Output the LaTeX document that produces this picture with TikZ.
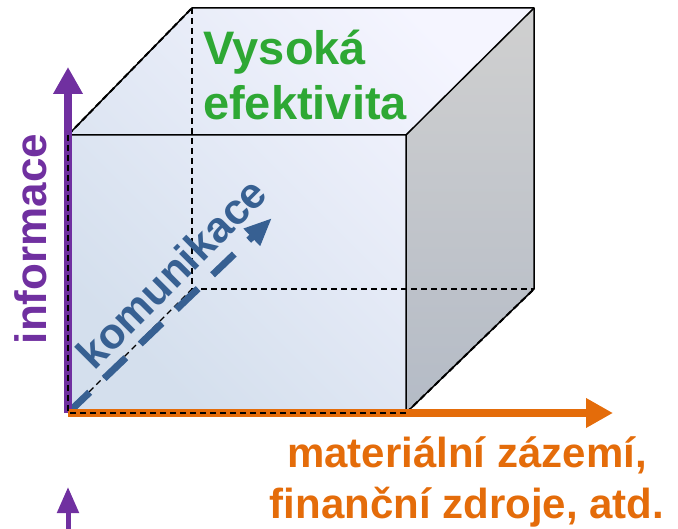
\documentclass[tikz,border=0pt]{standalone}
\usepackage{fontspec}
\setmainfont{Liberation Sans}
\usetikzlibrary{arrows.meta}
\definecolor{infopurple}{RGB}{112,48,160}
\definecolor{matorange}{RGB}{228,108,10}
\definecolor{effgreen}{RGB}{46,168,52}
\definecolor{commblue}{RGB}{55,96,146}
\begin{document}
\begin{tikzpicture}[x=1pt, y=-1pt,
    edge/.style={line width=1.5pt, line join=round},
    hidden/.style={line width=1.2pt, dash pattern=on 6pt off 4pt},
    axis/.style={line width=8pt, -{Triangle[length=27pt,width=28pt]}},
    bigtext/.style={font=\fontsize{42}{51}\selectfont\bfseries, inner sep=0pt}]
  \clip (0,0) rectangle (678,529);
  % cube corners: front (f) and back (b)
  \coordinate (fbl) at (68,413);  \coordinate (fbr) at (406,413);
  \coordinate (ftr) at (406,135); \coordinate (ftl) at (68,135);
  \coordinate (bbl) at (192,289); \coordinate (bbr) at (534,289);
  \coordinate (btr) at (534,8);   \coordinate (btl) at (192,8);
  \coordinate (itip) at (68,67);  \coordinate (mtip) at (613,413);
  \coordinate (ctip) at (272,218);
  \coordinate (stub) at (68,545); \coordinate (stubtip) at (68,487);
  % faces
  \shade[top color=white!96!blue, bottom color={rgb,255:red,212;green,223;blue,237}, shading angle=-45]
    (fbl) -- (fbr) -- (ftr) -- (btr) -- (btl) -- (ftl) -- cycle;
  \shade[top color={rgb,255:red,208;green,208;blue,208}, bottom color={rgb,255:red,180;green,187;blue,198}]
    (fbr) -- (bbr) -- (btr) -- (ftr) -- cycle;
  % hidden edges
  \draw[hidden] (btl) -- (bbl) -- (bbr);
  \draw[hidden] (fbl) -- (bbl);
  % visible edges
  \draw[edge] (ftl) -- (ftr) -- (fbr) -- (bbr) -- (btr) -- (btl) -- (ftl);
  \draw[edge] (ftr) -- (btr);
  \draw[hidden, line width=2pt] (ftl) -- (btl);
  \draw[hidden, line width=2pt] (fbr) -- (bbr);
  % axes
  \draw[commblue, line width=7pt, dash pattern=on 30pt off 20pt, -{Triangle[length=28pt,width=22pt]}] (fbl) -- (ctip);
  \draw[axis, infopurple] (fbl) -- (itip);
  \draw[axis, matorange] (fbl) -- (mtip);
  \draw[hidden] (ftl) -- (fbl) -- (fbr);
  \draw[infopurple, line width=5pt, -{Triangle[length=26pt,width=21pt]}] (stub) -- (stubtip);
  % labels
  \node[bigtext, effgreen, font=\fontsize{47}{55}\selectfont\bfseries, align=left, anchor=north west] (eff) at (203,30) {Vysoká\\efektivita};
  \node[bigtext, infopurple, font=\fontsize{44}{51}\selectfont\bfseries, rotate=90, anchor=base] (info) at (46,239) {informace};
  \node[bigtext, commblue, font=\fontsize{43}{51}\selectfont\bfseries, rotate=45, anchor=base] (comm) at (182,284) {komunikace};
  \node[bigtext, matorange, align=center, anchor=north] (mat) at (467,436) {materiální zázemí,\\finanční zdroje, atd.};
\end{tikzpicture}
\end{document}
